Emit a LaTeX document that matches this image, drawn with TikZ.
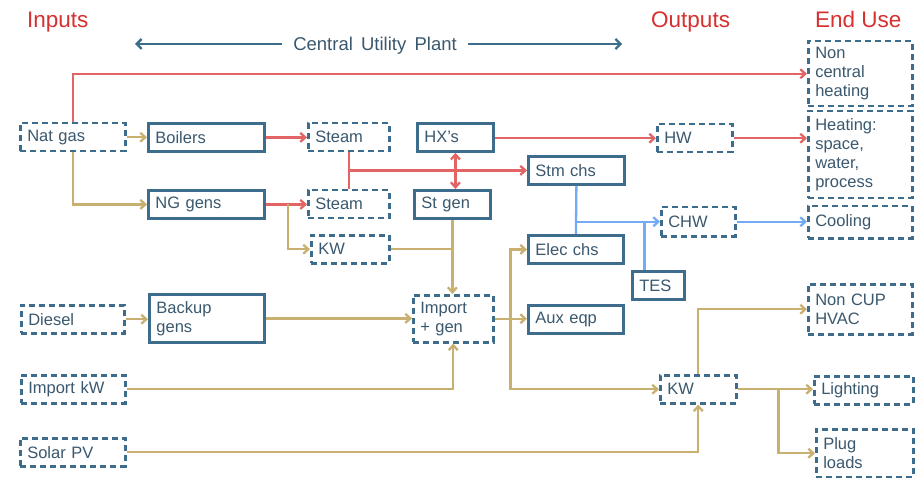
\documentclass[tikz,border=0pt]{standalone}
\usepackage{fontspec}
\setmainfont{Liberation Sans}
\usetikzlibrary{arrows.meta, positioning}

\definecolor{boxblue}{RGB}{62,108,140}
\definecolor{txtblue}{RGB}{58,88,110}
\definecolor{flowred}{RGB}{226,100,100}
\definecolor{flowtan}{RGB}{200,176,112}
\definecolor{flowblue}{RGB}{115,172,245}
\definecolor{titlered}{RGB}{215,48,48}

\begin{document}
\begin{tikzpicture}[x=1pt, y=-1pt,
    every node/.style={font=\fontsize{16.5}{19}\selectfont, text=txtblue},
    solidbox/.style={draw=boxblue, line width=2.8pt, anchor=north west, align=left, inner xsep=7pt},
    dashbox/.style={draw=boxblue, line width=2.5pt, dash pattern=on 6pt off 4pt, anchor=north west, align=left, inner xsep=7pt},
    heading/.style={font=\fontsize{22.5}{26}\selectfont, text=titlered, anchor=base west, inner sep=0pt},
    redflow/.style={draw=flowred, line width=2.3pt, -{Straight Barb[length=5pt,width=9pt]}},
    tanflow/.style={draw=flowtan, line width=2.3pt, -{Straight Barb[length=5pt,width=9pt]}},
    blueflow/.style={draw=flowblue, line width=2.3pt, -{Straight Barb[length=5pt,width=9pt]}},
    plantarrow/.style={draw=boxblue, line width=2.3pt, -{Straight Barb[length=5pt,width=10pt]}}
  ]
    \useasboundingbox[fill=white] (0,0) rectangle (917,478);

    % Column headings
    \node[heading] (inputs) at (27,28) {Inputs};
    \node[heading] (outputs) at (651,28) {Outputs};
    \node[heading] (enduse) at (815,28) {End Use};
    \node[font=\fontsize{18.5}{22}\selectfont, inner xsep=11pt, anchor=base] (cup) at (375,51) {Central\, Utility\, Plant};
    \coordinate (cupL) at (135,44);
    \coordinate (cupR) at (622,44);
    \draw[plantarrow] (cup.west |- cupL) -- (cupL);
    \draw[plantarrow] (cup.east |- cupR) -- (cupR);

    % Inputs
    \node[dashbox, minimum width=105, minimum height=28, text width=91] (natgas) at (19,122) {Nat gas};
    \node[dashbox, minimum width=103, minimum height=28, text width=89] (diesel) at (20,304) {Diesel};
    \node[dashbox, minimum width=104, minimum height=28, text width=90] (importkw) at (20,374) {Import kW};
    \node[dashbox, minimum width=105, minimum height=28, text width=91] (solarpv) at (19,437) {Solar PV};

    % Central utility plant
    \node[solidbox, minimum width=116, minimum height=28, text width=102] (boilers) at (147,122) {Boilers};
    \node[solidbox, minimum width=116, minimum height=28, text width=102] (nggens) at (147,189) {NG gens};
    \node[solidbox, minimum width=115, minimum height=48, text width=101] (backup) at (148,293) {Backup\\gens};
    \node[dashbox, minimum width=81, minimum height=28, text width=67] (steamA) at (307,122) {Steam};
    \node[dashbox, minimum width=81, minimum height=28, text width=67] (steamB) at (307,189) {Steam};
    \node[dashbox, minimum width=78, minimum height=28, text width=64] (kwA) at (310,234) {KW};
    \node[solidbox, minimum width=76, minimum height=28, text width=62] (hxs) at (416,122) {HX's};
    \node[solidbox, minimum width=76, minimum height=28, text width=62] (stgen) at (413,189) {St gen};
    \node[dashbox, minimum width=80, minimum height=47, text width=66] (importgen) at (412,294) {Import\\+ gen};
    \node[solidbox, minimum width=96, minimum height=28, text width=82] (stmchs) at (527,155) {Stm chs};
    \node[solidbox, minimum width=95, minimum height=28, text width=81] (elecchs) at (527,234) {Elec chs};
    \node[solidbox, minimum width=95, minimum height=28, text width=81] (auxeqp) at (527,304) {Aux eqp};
    \node[solidbox, minimum width=52, minimum height=28, text width=38] (tes) at (631,270) {TES};

    % Outputs
    \node[dashbox, minimum width=75, minimum height=28, text width=61] (hw) at (656,123) {HW};
    \node[dashbox, minimum width=74, minimum height=29, text width=60] (chw) at (660,206) {CHW};
    \node[dashbox, minimum width=76, minimum height=28, text width=62] (kwB) at (659,374) {KW};

    % End use
    \node[dashbox, minimum width=104, minimum height=65, text width=90] (noncentral) at (807,40) {Non\\central\\heating};
    \node[dashbox, minimum width=104, minimum height=87, text width=90] (heating) at (807,110) {Heating:\\space,\\water,\\process};
    \node[dashbox, minimum width=104, minimum height=32, text width=90] (cooling) at (807,205) {Cooling};
    \node[dashbox, minimum width=104, minimum height=50, text width=90] (noncup) at (807,283) {Non CUP\\HVAC};
    \node[dashbox, minimum width=99, minimum height=28, text width=85] (lighting) at (813,375) {Lighting};
    \node[dashbox, minimum width=97, minimum height=48, text width=83] (plug) at (815,428) {Plug\\loads};

    % Natural gas and steam
    \draw[redflow] (natgas.north) |- (noncentral.west);
    \draw[tanflow] (natgas.east) -- (natgas.east -| boilers.west);
    \draw[tanflow] (natgas.south) |- (nggens.west);
    \draw[redflow] (boilers.east) -- (boilers.east -| steamA.west);
    \draw[redflow] (nggens.east) -- (nggens.east -| steamB.west);
    \draw[tanflow] ([xshift=22]nggens.east) |- (kwA.west);
    \draw[draw=flowred, line width=2.3pt] (steamA.south) -- (steamB.north);
    \draw[redflow] (steamA.south |- stmchs.west) -- (stmchs.west);
    \draw[redflow, {Straight Barb[length=5pt,width=9pt]}-{Straight Barb[length=5pt,width=9pt]}] (hxs.south) -- (hxs.south |- stgen.north);
    \draw[redflow] (hxs.east |- hw.west) -- (hw.west);
    \draw[redflow] (hw.east) -- (hw.east -| heating.west);

    % Chilled water
    \draw[draw=flowblue, line width=2.3pt] (stmchs.south) -- (elecchs.north);
    \draw[blueflow] (stmchs.south |- chw.west) -- (chw.west);
    \draw[draw=flowblue, line width=3.2pt] ([xshift=-14]tes.north) -- ([xshift=-14]tes.north |- chw.west);
    \draw[blueflow] (chw.east) -- (chw.east -| cooling.west);

    % Electricity
    \draw[tanflow] (stgen.south) -- (stgen.south |- importgen.north);
    \draw[draw=flowtan, line width=2.3pt] (kwA.east) -- (kwA.east -| stgen.south);
    \draw[tanflow] (diesel.east) -- (diesel.east -| backup.west);
    \draw[tanflow] (backup.east) -- (backup.east -| importgen.west);
    \draw[tanflow] (importkw.east) -| (importgen.south);
    \coordinate (split) at ([xshift=16]importgen.east);
    \draw[tanflow] (importgen.east) -- (importgen.east -| auxeqp.west);
    \draw[tanflow] (split) |- (elecchs.west);
    \draw[tanflow] (split) |- (kwB.west);
    \draw[tanflow] (solarpv.east) -| (kwB.south);
    \draw[tanflow] (kwB.north) |- (noncup.west);
    \draw[tanflow] (kwB.east) -- (kwB.east -| lighting.west);
    \draw[tanflow] ([xshift=41]kwB.east) |- (plug.west);
\end{tikzpicture}
\end{document}
